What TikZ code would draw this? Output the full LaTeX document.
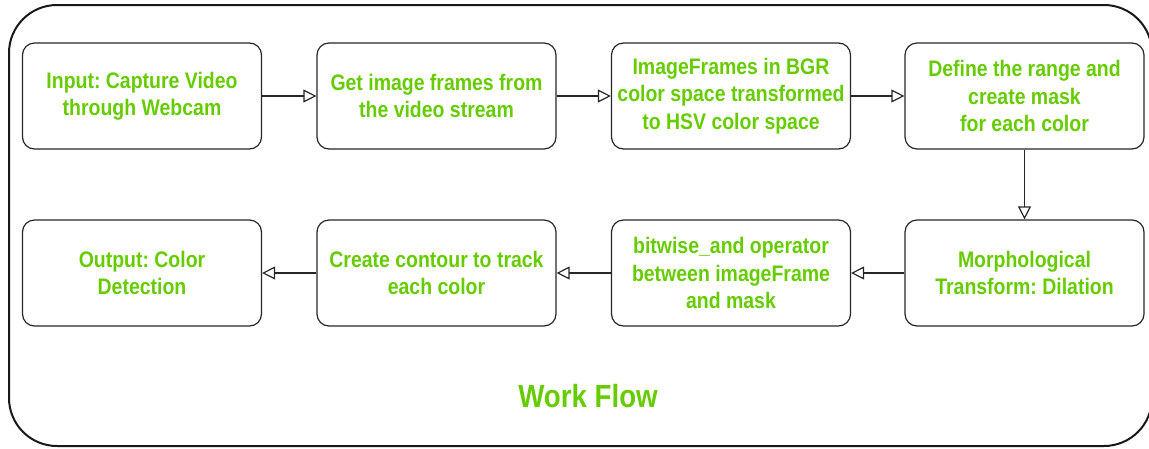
\documentclass[tikz,border=0pt]{standalone}
\usepackage{fontspec}
\setmainfont[FakeStretch=0.865]{Liberation Sans}
\usetikzlibrary{arrows.meta}
\definecolor{flowgreen}{HTML}{66CC00}
\frenchspacing
\tikzset{
  stepbox/.style={draw=black!85, line width=1.2pt, rounded corners=12pt,
    minimum width=239pt, minimum height=106pt, align=center,
    text=flowgreen, font=\bfseries\fontsize{22.5}{27.5}\selectfont, inner sep=2pt},
  flow/.style={draw=black!85, line width=1.2pt,
    -{Triangle[open, length=13pt, width=13pt]}}
}
\begin{document}
\begin{tikzpicture}[x=1pt,y=-1pt]
  \useasboundingbox (0,0) rectangle (1149,448);
  \clip (0,0) rectangle (1149,448);
  % outer frame
  \draw[line width=2pt, black!90, rounded corners=48pt] (9,5) rectangle (1152,446);
  % first row
  \node[stepbox] (in)    at (142,96)    {Input: Capture Video\\through Webcam};
  \node[stepbox] (frame) at (436.5,96)  {Get image frames from\\the video stream};
  \node[stepbox] (hsv)   at (731,96)    {ImageFrames in BGR\\color space transformed\\to HSV color space};
  \node[stepbox] (mask)  at (1024.5,96) {Define the range and\\create mask\\for each color};
  % second row
  \node[stepbox] (out)   at (142,273)    {Output: Color\\Detection};
  \node[stepbox] (cont)  at (436.5,273)  {Create contour to track\\each color};
  \node[stepbox] (band)  at (731,273)    {bitwise\_and operator\\between imageFrame\\and mask};
  \node[stepbox] (morph) at (1024.5,273) {Morphological\\Transform: Dilation};
  % connectors
  \draw[flow] (in) -- (frame);
  \draw[flow] (frame) -- (hsv);
  \draw[flow] (hsv) -- (mask);
  \draw[flow] (mask) -- (morph);
  \draw[flow] (morph) -- (band);
  \draw[flow] (band) -- (cont);
  \draw[flow] (cont) -- (out);
  % caption
  \node[text=flowgreen, font=\bfseries\fontsize{32}{38}\selectfont] (title) at (588,396) {Work Flow};
\end{tikzpicture}
\end{document}
